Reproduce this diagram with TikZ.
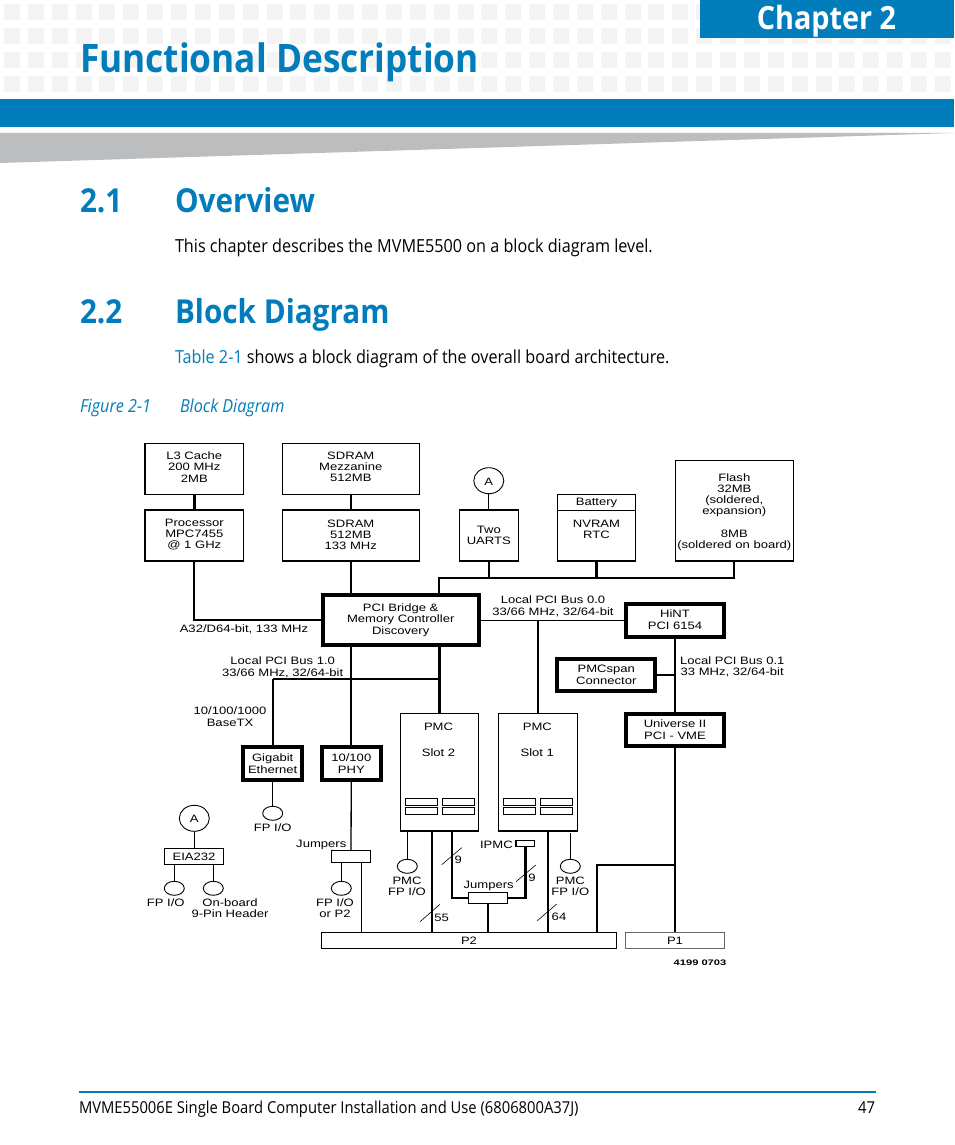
\documentclass[tikz,border=0pt]{standalone}
\usepackage{fontspec}
\usetikzlibrary{shapes.geometric}
\setmainfont{Open Sans}
\newfontfamily\headfont[FakeStretch=0.9]{Open Sans}
\newfontfamily\bodyfont[FakeStretch=0.9]{Open Sans}
\newfontfamily\diagfont[FakeStretch=1.22]{Liberation Sans}
\newfontfamily\stampfont[FakeStretch=1.39]{Liberation Sans}
\definecolor{brand}{HTML}{027DBC}
\definecolor{tile}{HTML}{F4F4F4}
\definecolor{wedge}{HTML}{BCBDBF}

\begin{document}
\begin{tikzpicture}[x=1pt,y=-1pt]
    \tikzstyle{every node}+=[inner sep=0pt,outer sep=0pt]
    \tikzstyle{box}=[draw=black,line width=1.2pt,rectangle]
    \tikzstyle{heavy}=[draw=black,line width=4pt,rectangle]
    \tikzstyle{oval}=[draw=black,line width=0.9pt,ellipse]
    \tikzstyle{txt}=[align=center,yshift=-0.7pt,font=\diagfont\fontsize{10.7}{11.3}\selectfont]
    \tikzstyle{page}=[anchor=base west,font=\bodyfont\fontsize{18}{22}\selectfont]
    \tikzstyle{sect}=[anchor=base west,text=brand,font=\headfont\bfseries\fontsize{33}{36}\selectfont]
    \tikzstyle{wire}=[black,line width=2.1pt]
    \tikzstyle{link}=[black,line width=1.3pt]
    \useasboundingbox (0,0) rectangle (954,1145);
    \fill [white] (0,0) rectangle (954,1145);

    \foreach \i in {0,...,39}
        \foreach \j in {0,...,3}
            \fill [tile] ({4+23.87*\i},{4+24*\j}) rectangle ++(16,16);
    \fill [brand] (700,0) rectangle (954,38);
    \fill [brand] (0,99) rectangle (954,127);
    \fill [wedge] (0,133) -- (954,133) -- (0,163) -- cycle;
    \node [anchor=base,text=white,font=\headfont\bfseries\fontsize{32}{36}\selectfont] (chapter) at (826.5,29.3) {Chapter 2};
    \node [anchor=base west,text=brand,font=\headfont\bfseries\fontsize{39.2}{44}\selectfont] (title) at (80,72.7) {Functional Description};

    \node [sect] (num1) at (80,212) {2.1};
    \node [sect] (head1) at (175,212) {Overview};
    \node [page] (para1) at (175,252) {This chapter describes the MVME5500 on a block diagram level.};
    \node [sect] (num2) at (80,323) {2.2};
    \node [sect] (head2) at (175,323) {Block Diagram};
    \node [page] (para2) at (175,363) {\textcolor{brand}{Table 2-1} shows a block diagram of the overall board architecture.};
    \node [page,text=brand,font=\bodyfont\itshape\fontsize{18}{22}\selectfont] (fignum) at (80,412) {Figure 2-1};
    \node [page,text=brand,font=\bodyfont\itshape\fontsize{18}{22}\selectfont] (figname) at (180,412) {Block Diagram};

    \node [box,minimum width=98.6,minimum height=51] (cache) at (194.3,468.8) {};
    \node [txt] (cachetxt) at (194.3,466.3) {L3 Cache\\200 MHz\\2MB};
    \node [box,minimum width=98.6,minimum height=51] (cpu) at (194.3,535.5) {};
    \node [txt] (cputxt) at (194.3,534) {Processor\\MPC7455\\@ 1 GHz};
    \node [box,minimum width=137,minimum height=51] (mezz) at (350.8,468.8) {};
    \node [txt] (mezztxt) at (350.8,466.3) {SDRAM\\Mezzanine\\512MB};
    \node [box,minimum width=137,minimum height=51] (sdram) at (350.8,535.5) {};
    \node [txt] (sdramtxt) at (350.8,534) {SDRAM\\512MB\\133 MHz};
    \node [oval,minimum width=30,minimum height=26] (porta) at (488.8,480.7) {};
    \node [txt] (portatxt) at (488.8,480.7) {A};
    \node [box,minimum width=59,minimum height=51] (uart) at (488.8,535.5) {};
    \node [txt] (uarttxt) at (488.8,534.8) {Two\\UARTS};
    \node [box,minimum width=78.4,minimum height=16] (batt) at (596.5,502.3) {};
    \node [txt] (batttxt) at (596.5,501.8) {Battery};
    \node [box,minimum width=78.4,minimum height=50.7] (nvram) at (596.5,535.6) {};
    \node [txt] (nvramtxt) at (596.5,529) {NVRAM\\RTC};
    \node [box,minimum width=118,minimum height=100.3] (flash) at (734.3,510.8) {};
    \node [txt] (flashtxt) at (734.3,511.5) {Flash\\32MB\\(soldered,\\expansion)\\[11.3pt]8MB\\(soldered on board)};
    \node [heavy,minimum width=156,minimum height=50] (bridge) at (400.7,620.3) {};
    \node [txt] (bridgetxt) at (400.7,619.5) {PCI Bridge \&\\Memory Controller\\Discovery};
    \node [heavy,minimum width=97.4,minimum height=32.6] (hint) at (675,620.3) {};
    \node [txt] (hinttxt) at (675,619) {HiNT\\PCI 6154};
    \node [heavy,minimum width=98,minimum height=32.6] (span) at (606.3,675) {};
    \node [txt] (spantxt) at (606.3,674) {PMCspan\\Connector};
    \node [heavy,minimum width=98.4,minimum height=32.6] (univ) at (675,730) {};
    \node [txt] (univtxt) at (675,729) {Universe II\\PCI - VME};
    \node [heavy,minimum width=58.7,minimum height=32.7] (gig) at (272.7,763.3) {};
    \node [txt] (gigtxt) at (272.7,763) {Gigabit\\Ethernet};
    \node [heavy,minimum width=58.7,minimum height=32.7] (phy) at (351.3,763.3) {};
    \node [txt] (phytxt) at (351.3,763) {10/100\\PHY};
    \node [box,minimum width=78.4,minimum height=117.7] (slottwo) at (439.5,772.2) {};
    \node [txt] (slottwotxt) at (438.5,739.2) {PMC\\[14.8pt]Slot 2};
    \node [box,minimum width=79,minimum height=117.7] (slotone) at (537.8,772.2) {};
    \node [txt] (slotonetxt) at (537.3,739.2) {PMC\\[14.8pt]Slot 1};
    \foreach \x in {405.3,442.3,503.3,540.3}
        \foreach \y in {798.3,807.3}
            \draw [black,line width=0.9pt] (\x,\y) rectangle ++(32,7);
    \node [oval,minimum width=20,minimum height=14] (gigio) at (272.7,813.3) {};
    \node [txt] (gigiotxt) at (272.7,827) {FP I/O};
    \node [oval,minimum width=30,minimum height=26] (portb) at (194.3,818.3) {};
    \node [txt] (portbtxt) at (194.3,818.3) {A};
    \node [box,minimum width=59.4,minimum height=16] (eia) at (194,856.3) {};
    \node [txt] (eiatxt) at (194,855.8) {EIA232};
    \node [oval,minimum width=20,minimum height=14] (eiaio) at (174.3,888.3) {};
    \node [txt] (eiaiotxt) at (165.7,902) {FP I/O};
    \node [oval,minimum width=20,minimum height=14] (hdr) at (213.3,888.3) {};
    \node [txt] (hdrtxt) at (230,907.7) {On-board\\9-Pin Header};
    \node [box,minimum width=39.4,minimum height=12] (jumpa) at (351,856.3) {};
    \node [txt,anchor=east] (jumpatxt) at (346.3,844) {Jumpers};
    \node [oval,minimum width=20,minimum height=14] (jumpio) at (341.3,888.3) {};
    \node [txt] (jumpiotxt) at (335,907.7) {FP I/O\\or P2};
    \node [oval,minimum width=20,minimum height=14] (twoio) at (407.3,866.3) {};
    \node [txt] (twoiotxt) at (407,885.5) {PMC\\FP I/O};
    \node [oval,minimum width=20,minimum height=14] (oneio) at (570.3,866.3) {};
    \node [txt] (oneiotxt) at (570.3,885.5) {PMC\\FP I/O};
    \node [box,minimum width=39.4,minimum height=10.6] (jumpb) at (488,898) {};
    \node [txt] (jumpbtxt) at (488.7,885) {Jumpers};
    \node [box,minimum width=18.7,minimum height=6] (ipmc) at (525.4,843.3) {};
    \node [txt,anchor=east] (ipmctxt) at (512.7,843.7) {IPMC};
    \node [box,minimum width=295.4,minimum height=16] (ptwo) at (469,940.3) {};
    \node [txt] (ptwotxt) at (469,940) {P2};
    \node [box,draw=black!60,minimum width=98.3,minimum height=16] (pone) at (675,940.3) {};
    \node [txt] (ponetxt) at (675,940) {P1};

    \coordinate (bus) at (439.3,577.7);
    \coordinate (tap) at (439.3,679);
    \coordinate (ptwoa) at (432,932.3);
    \coordinate (ptwob) at (548,932.3);
    \coordinate (jumpin) at (452,898);
    \coordinate (vmetap) at (596.7,865);
    \coordinate (jumpout) at (361.3,932.3);
    \coordinate (twoout) at (407.3,831);
    \coordinate (oneout) at (570.3,833);

    \draw [black,line width=2.7pt] (cache) -- (cpu);
    \draw [wire,line width=1.7pt] (mezz) -- (sdram);
    \draw [wire,line width=1.7pt] (sdram) -- (sdram |- bridge.north);
    \draw [wire] (cpu) |- (bridge);
    \draw [wire] (bus |- bridge.north) -- (bus) -| (flash);
    \draw [wire] (uart) -- (uart |- bus);
    \draw [wire] (nvram) -- (nvram |- bus);
    \draw [link] (porta) -- (uart);
    \draw [wire,line width=1.6pt] (bridge) -- (hint);
    \draw [wire] (slotone) -- (slotone |- bridge);
    \draw [wire] (hint) -- (univ);
    \draw [wire] (span) -- (span -| hint);
    \draw [black,line width=2.7pt] (tap |- bridge.south) -- (tap |- slottwo.north);
    \draw [link] (gig |- tap) -- (tap);
    \draw [wire] (gig) -- (gig |- tap);
    \draw [wire] (phy) -- (phy |- bridge.south);
    \draw [link] (gig) -- (gigio);
    \draw [link] (phy) -- (jumpa);
    \draw [link] (portb) -- (portb |- eia.north);
    \draw [link] (eiaio) -- (eiaio |- eia.south);
    \draw [link] (hdr) -- (hdr |- eia.south);
    \draw [link] (jumpio) -- (jumpio |- jumpa.south);
    \draw [link] (jumpout) -- (jumpout |- jumpa.south);
    \draw [link] (twoio) -- (twoout);
    \draw [link] (oneio) -- (oneout);
    \draw [wire] (ptwoa) -- (ptwoa |- slottwo.south);
    \draw [wire] (ptwob) -- (ptwob |- slotone.south);
    \draw [wire] (jumpin |- slottwo.south) -- (jumpin) -- (jumpb);
    \draw [black,line width=2.7pt] (ipmc) |- (jumpb);
    \draw [wire] (jumpb) -- (jumpb |- ptwo.north);
    \draw [wire] (univ) -- (pone);
    \draw [wire] (vmetap -| univ) -- (vmetap) -- (vmetap |- ptwo.north);

    \draw [black,line width=0.6pt] (420,921.7) -- (440,904.3);
    \draw [black,line width=0.6pt] (441.7,864.7) -- (461.7,847.7);
    \draw [black,line width=0.6pt] (516,881.7) -- (535.7,865);
    \draw [black,line width=0.6pt] (537.3,920.7) -- (556.7,904);
    \node [txt] (wtwo) at (441.7,916.7) {55};
    \node [txt] (wnine) at (458.3,859) {9};
    \node [txt] (wipmc) at (532,876.7) {9};
    \node [txt] (wone) at (559,916) {64};

    \node [txt] (cputag) at (244,629) {A32/D64-bit, 133 MHz};
    \node [txt] (bustag) at (282.7,666.5) {Local PCI Bus 1.0\\33/66 MHz, 32/64-bit};
    \node [txt] (lantag) at (230,716) {10/100/1000\\BaseTX};
    \node [txt] (zerotag) at (553,605.7) {Local PCI Bus 0.0\\33/66 MHz, 32/64-bit};
    \node [txt,anchor=west] (onetag) at (680,666.3) {Local PCI Bus 0.1\\33 MHz, 32/64-bit};
    \node [txt,font=\stampfont\bfseries\fontsize{8}{9}\selectfont] (stamp) at (700,962.3) {4199 0703};

    \draw [brand,line width=1.5pt] (79,1092) -- (876,1092);
    \node [page,font=\bodyfont\fontsize{16.4}{20}\selectfont] (footer) at (79,1113) {MVME55006E Single Board Computer Installation and Use (6806800A37J)};
    \node [page,anchor=base east,font=\bodyfont\fontsize{16.4}{20}\selectfont] (pagenum) at (875,1113) {47};
\end{tikzpicture}
\end{document}
